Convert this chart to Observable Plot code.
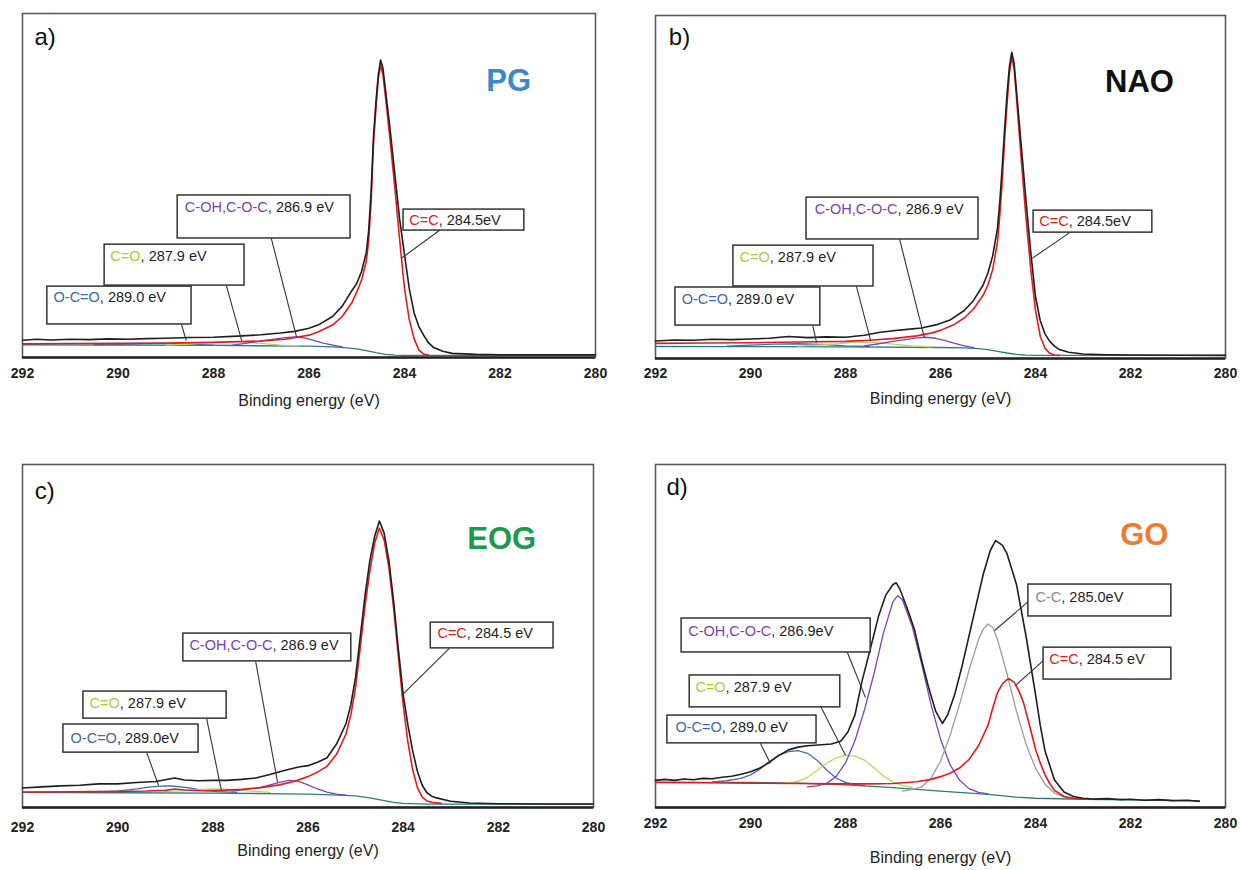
<!DOCTYPE html>
<html><head><meta charset="utf-8">
<script src="https://cdn.jsdelivr.net/npm/d3@7"></script>
<script src="https://cdn.jsdelivr.net/npm/@observablehq/plot@0.6"></script>
<style>
body{margin:0;background:#fff;}
#wrap{position:relative;width:1240px;height:870px;background:#fff;overflow:hidden;}
#wrap .p{position:absolute;}
</style></head><body><div id="wrap"></div>
<script>
// ---------- data ----------
const xTicks = [292, 290, 288, 286, 284, 282, 280];
const axisLabel = "Binding energy (eV)";

// Panel a) PG
const aTotal = [[292,5.0],[291.7,5.3],[291.4,5.1],[291,5.3],[290.6,5.2],[290.2,5.4],[289.8,5.3],[289.4,5.5],[289,5.6],[288.5,5.8],[288,5.9],[287.5,6.2],[287,6.6],[286.6,7.1],[286.3,7.6],[286,8.5],[285.8,9.5],[285.5,12],[285.3,15],[285.1,19.5],[285,21.5],[284.9,25],[284.8,30.5],[284.75,37],[284.7,48],[284.65,64],[284.6,74],[284.55,82],[284.5,86.5],[284.45,84],[284.4,78],[284.3,66],[284.2,53],[284.1,40],[284,30],[283.9,20],[283.8,13],[283.7,9],[283.6,6.5],[283.5,4.3],[283.4,3],[283.2,1.8],[283,1.2],[282.5,0.9],[282,0.8],[281,0.8],[280,0.8]];
const aCC = [[292,4.0],[291,4.05],[290,4.1],[289,4.2],[288,4.4],[287,4.8],[286.5,5.3],[286,6.5],[285.8,7.5],[285.5,9.5],[285.3,12],[285.1,16],[285,19],[284.9,22.5],[284.8,28],[284.75,34],[284.7,45],[284.65,62],[284.6,72],[284.55,81],[284.5,84.9],[284.45,82],[284.4,76],[284.3,63],[284.2,49],[284.1,34],[284,20],[283.9,11],[283.8,5.5],[283.7,2.2],[283.6,1.0],[283.5,0.7]];
const aCOH = [[287.6,3.6],[287.3,4.2],[287,4.8],[286.7,5.4],[286.5,5.8],[286.3,6.0],[286.1,5.7],[285.9,5.0],[285.7,4.2],[285.5,3.6],[285.3,3.1]];
const aCO = [[289,3.6],[288.5,3.9],[288,4.4],[287.7,4.7],[287.4,4.6],[287,4.1],[286.6,3.6],[286.2,3.4]];
const aOCO = [[290.5,3.7],[290,3.8],[289.5,4.0],[289,4.1],[288.5,3.9],[288,3.6],[287.5,3.5]];
const aBg = [[292,3.7],[290,3.6],[288,3.5],[286,3.3],[285.5,3.1],[285.2,2.8],[285,2.5],[284.8,2.0],[284.6,1.4],[284.4,0.9],[284.2,0.7],[284,0.6],[282,0.6],[280,0.6]];

// Panel b) NAO
const bTotal = [[292,5.1],[291.6,5.4],[291.2,5.3],[290.8,5.6],[290.4,5.5],[290,5.7],[289.6,5.9],[289.2,6.4],[288.8,6.1],[288.4,6.3],[288,6.2],[287.6,6.8],[287.3,7.6],[287,8.1],[286.7,8.5],[286.4,8.9],[286.1,9.8],[285.8,11.2],[285.5,14],[285.3,17],[285.1,21.5],[285,25],[284.9,30],[284.8,38],[284.75,46],[284.7,56],[284.65,67],[284.6,77],[284.55,85],[284.5,89.3],[284.45,86],[284.4,78],[284.3,62],[284.2,46],[284.1,31],[284,18],[283.9,11],[283.8,7.2],[283.7,5],[283.6,3.6],[283.5,2.6],[283.3,1.8],[283,1.3],[282.5,1.1],[282,1.0],[281,0.95],[280,0.9]];
const bCC = [[292,4.4],[291,4.5],[290,4.6],[289,4.8],[288,5.0],[287.5,5.3],[287,5.8],[286.5,6.6],[286.2,7.4],[286,8.2],[285.7,10],[285.5,11.8],[285.3,14.5],[285.1,18.5],[285,21.5],[284.9,26],[284.8,34],[284.75,42],[284.7,52],[284.65,64],[284.6,74],[284.55,83],[284.5,87.9],[284.45,84.5],[284.4,76],[284.3,58],[284.2,41],[284.1,26],[284,14],[283.9,6.5],[283.8,3],[283.7,1.5],[283.6,1.0],[283.5,0.9]];
const bCOH = [[287.6,3.7],[287.3,4.3],[287,5.0],[286.7,5.6],[286.5,6.0],[286.3,6.2],[286.1,5.9],[285.9,5.2],[285.7,4.4],[285.5,3.7],[285.3,3.2]];
const bCO = [[289,3.6],[288.5,4.0],[288,4.5],[287.7,4.8],[287.4,4.7],[287,4.2],[286.6,3.7],[286.2,3.4]];
const bOCO = [[290.5,3.6],[290,3.9],[289.5,4.2],[289,4.3],[288.5,4.1],[288,3.7],[287.5,3.5]];
const bBg = [[292,3.5],[290,3.45],[288,3.4],[286,3.2],[285.5,3.1],[285.2,2.9],[285,2.6],[284.8,2.1],[284.6,1.6],[284.4,1.2],[284.2,1.0],[284,0.9],[282,0.9],[280,0.9]];

// Panel c) EOG
const cTotal = [[292,5.7],[291.6,6.0],[291.2,6.3],[290.8,6.5],[290.4,6.9],[290,6.9],[289.6,7.3],[289.2,7.6],[289,8.1],[288.8,8.6],[288.6,8.0],[288.3,7.8],[288,7.9],[287.7,7.9],[287.4,8.2],[287.1,8.6],[286.8,9.6],[286.5,10.8],[286.2,11.8],[286,12.2],[285.8,13.2],[285.6,14.5],[285.4,18.5],[285.2,24.5],[285.1,30],[285,38],[284.9,50],[284.8,62],[284.7,72],[284.6,79],[284.5,83.5],[284.4,80],[284.3,72],[284.2,60],[284.1,46],[284,33],[283.9,24],[283.8,16.5],[283.7,10.5],[283.6,6.5],[283.5,4.3],[283.4,3.3],[283.3,2.8],[283,1.8],[282.6,1.3],[282,1.1],[281,1.0],[280,1.0]];
const cCC = [[292,4.5],[291,4.6],[290,4.7],[289.4,4.8],[289,5.0],[288.8,5.4],[288.6,5.1],[288.2,4.9],[287.8,5.0],[287.4,5.3],[287,5.8],[286.6,6.6],[286.3,7.6],[286,9.0],[285.8,10.3],[285.6,12],[285.4,15.5],[285.2,21.5],[285.1,27],[285,35],[284.9,47],[284.8,59],[284.7,69],[284.6,77],[284.5,81.5],[284.4,78],[284.3,70],[284.2,58],[284.1,44],[284,30],[283.9,19],[283.8,11],[283.7,5.8],[283.6,3.0],[283.5,1.9],[283.4,1.5],[283.2,1.2]];
const cCOH = [[287.6,4.8],[287.3,5.3],[287,5.8],[286.8,6.6],[286.6,7.3],[286.4,7.9],[286.2,7.6],[286,6.6],[285.8,5.4],[285.6,4.5],[285.4,3.9],[285.2,3.6]];
const cCO = [[289,4.6],[288.6,4.9],[288.2,5.3],[287.9,5.4],[287.6,5.2],[287.2,4.8],[286.8,4.4]];
const cOCO = [[290.4,4.5],[290,4.8],[289.6,5.4],[289.3,6.0],[289.0,6.3],[288.8,6.2],[288.5,5.7],[288.2,5.0],[287.9,4.6],[287.5,4.4]];
const cBg = [[292,4.4],[290,4.3],[288,4.2],[286.5,4.0],[286,3.9],[285.5,3.7],[285,3.4],[284.7,2.8],[284.4,2.0],[284.2,1.5],[284,1.2],[283.5,1.0],[280,1.0]];

// Panel d) GO
const dTotal = [[292,7.9],[291.8,8.2],[291.6,7.9],[291.4,8.3],[291.2,8.1],[291,8.5],[290.8,8.4],[290.6,8.8],[290.4,9.1],[290.2,9.7],[290,10.4],[289.8,11.5],[289.6,13.2],[289.4,15.2],[289.2,16.8],[289,17.6],[288.8,18.0],[288.5,18.3],[288.3,18.5],[288.1,19.3],[287.95,22],[287.8,27],[287.65,37],[287.5,45],[287.3,56],[287.15,62],[287,65],[286.93,65.5],[286.85,63.5],[286.7,58],[286.55,52],[286.4,43],[286.25,35],[286.1,28],[285.96,24.5],[285.85,27],[285.7,33],[285.55,41],[285.4,50],[285.25,59],[285.1,68],[284.95,75],[284.84,77.8],[284.7,76.5],[284.6,74],[284.4,65],[284.2,50],[284,33],[283.9,24],[283.8,16.5],[283.6,8],[283.4,4.5],[283.2,3.2],[283,2.7],[282.8,2.5],[282.5,2.6],[282.2,2.3],[282,2.4],[281.7,2.1],[281.4,2.3],[281.1,2.0],[280.8,2.1],[280.55,1.8]];
const dCC = [[292,7.3],[291,7.2],[290,7.1],[289,7.0],[288,6.9],[287.5,6.9],[287,7.0],[286.5,7.5],[286.2,8.2],[286,9.0],[285.8,10],[285.6,11.5],[285.4,14],[285.2,18],[285,24],[284.9,29],[284.8,33.5],[284.7,36],[284.6,37.3],[284.55,37.5],[284.45,36.5],[284.35,34],[284.25,30.5],[284.1,22.5],[284,17],[283.9,13],[283.8,9.5],[283.7,7],[283.6,5],[283.4,3.2],[283.2,2.7],[283,2.5]];
const dCCsingle = [[286.8,4.8],[286.6,5.2],[286.4,6.0],[286.2,8.5],[286,13.5],[285.8,21],[285.6,30],[285.4,40],[285.2,49],[285.1,52],[285,53.5],[284.9,52.5],[284.8,49],[284.6,39],[284.4,28],[284.2,18.5],[284,11.5],[283.8,6.8],[283.6,4.2],[283.4,3.1],[283.2,2.7]];
const dCOH = [[288.8,6.0],[288.6,6.3],[288.4,7.0],[288.2,9.0],[288,13],[287.8,19.5],[287.6,28.5],[287.4,39],[287.2,51],[287,60],[286.9,61.8],[286.8,60.5],[286.6,53],[286.4,42],[286.2,30],[286,20],[285.8,12.5],[285.6,8],[285.4,5.5],[285.2,4.4],[285,4.0]];
const dCO = [[289.3,7.0],[289.0,7.6],[288.8,8.8],[288.6,10.8],[288.4,12.9],[288.2,14.5],[288,15.2],[287.8,15],[287.6,13.8],[287.4,11.6],[287.2,9.2],[287,7.4],[286.8,6.4],[286.6,5.9]];
const dOCO = [[290.8,7.5],[290.5,7.8],[290.2,8.5],[290,9.5],[289.8,11.2],[289.6,13.4],[289.4,15.3],[289.2,16.3],[289,16.6],[288.8,15.8],[288.6,13.8],[288.4,11],[288.2,8.6],[288,7.3],[287.8,6.7],[287.6,6.4]];
const dBg = [[292,7.4],[291,7.35],[290,7.3],[289,7.1],[288,6.6],[287,5.8],[286,4.8],[285,3.8],[284.4,3.0],[284,2.7],[283,2.4],[282.5,2.3],[282,2.2],[281.5,2.1],[281,2.0],[280.55,1.9]];

// annotation labels (positions in data units: eV, intensity)
const aNotes = [
  {bond:"C-OH,C-O-C", energy:"286.9 eV", kind:"COH", bx1:288.75, bx2:285.13, by1:34.6, by2:47.1, tx:288.6, ty:43.6, lx1:286.79, ly1:34.6, lx2:286.26, ly2:5.9},
  {bond:"C=C", energy:"284.5eV", kind:"CC", bx1:284.02, bx2:281.49, by1:36.9, by2:43.0, tx:283.9, ty:39.9, lx1:283.27, ly1:36.9, lx2:284.07, ly2:28.8},
  {bond:"C=O", energy:"287.9 eV", kind:"CO", bx1:290.28, bx2:287.35, by1:20.9, by2:32.8, tx:290.16, ty:29.4, lx1:287.73, ly1:20.9, lx2:287.41, ly2:4.9},
  {bond:"O-C=O", energy:"289.0 eV", kind:"OCO", bx1:291.48, bx2:288.46, by1:9.6, by2:20.6, tx:291.35, ty:17.4, lx1:288.67, ly1:9.6, lx2:288.57, ly2:4.9}
];
const bNotes = [
  {bond:"C-OH,C-O-C", energy:"286.9 eV", kind:"COH", bx1:288.82, bx2:285.2, by1:34.7, by2:46.9, tx:288.65, ty:43.4, lx1:286.86, ly1:34.7, lx2:286.34, ly2:6.1},
  {bond:"C=C", energy:"284.5eV", kind:"CC", bx1:284.04, bx2:281.54, by1:36.7, by2:43.1, tx:283.92, ty:39.9, lx1:283.28, ly1:36.7, lx2:284.07, ly2:29.2},
  {bond:"C=O", energy:"287.9 eV", kind:"CO", bx1:290.36, bx2:287.41, by1:21.0, by2:32.9, tx:290.23, ty:29.4, lx1:287.77, ly1:21.0, lx2:287.47, ly2:5.2},
  {bond:"O-C=O", energy:"289.0 eV", kind:"OCO", bx1:291.58, bx2:288.53, by1:9.6, by2:20.7, tx:291.45, ty:17.2, lx1:288.69, ly1:9.6, lx2:288.61, ly2:4.7}
];
const cNotes = [
  {bond:"C=C", energy:"284.5 eV", kind:"CC", bx1:283.42, bx2:280.84, by1:46.4, by2:53.9, tx:283.28, ty:50.7, lx1:283.03, ly1:46.4, lx2:284.03, ly2:32.7},
  {bond:"C-OH,C-O-C", energy:"286.9 eV", kind:"COH", bx1:288.62, bx2:285.09, by1:42.6, by2:50.7, tx:288.49, ty:47.2, lx1:287.1, ly1:42.6, lx2:286.64, ly2:7.3},
  {bond:"C=O", energy:"287.9 eV", kind:"CO", bx1:290.72, bx2:287.71, by1:25.9, by2:33.8, tx:290.59, ty:30.3, lx1:288.13, ly1:25.9, lx2:287.82, ly2:5.0},
  {bond:"O-C=O", energy:"289.0eV", kind:"OCO", bx1:291.14, bx2:288.3, by1:16.0, by2:24.2, tx:290.99, ty:20.1, lx1:289.39, ly1:16.0, lx2:289.14, ly2:6.4}
];
const dNotes = [
  {bond:"C-C", energy:"285.0eV", kind:"CCs", bx1:284.15, bx2:281.14, by1:55.7, by2:65.0, tx:284.0, ty:61.2, lx1:284.13, ly1:60.3, lx2:284.86, ly2:51.6},
  {bond:"C=C", energy:"284.5 eV", kind:"CC", bx1:283.83, bx2:281.14, by1:37.3, by2:46.6, tx:283.71, ty:43.1, lx1:283.83, ly1:42.9, lx2:284.42, ly2:35.6},
  {bond:"C-OH,C-O-C", energy:"286.9eV", kind:"COH", bx1:291.45, bx2:287.47, by1:45.2, by2:55.1, tx:291.31, ty:51.3, lx1:287.96, ly1:45.2, lx2:287.58, ly2:32.1},
  {bond:"C=O", energy:"287.9 eV", kind:"CO", bx1:291.28, bx2:288.11, by1:29.2, by2:38.5, tx:291.16, ty:35.0, lx1:288.53, ly1:29.7, lx2:288.0, ly2:15.2},
  {bond:"O-C=O", energy:"289.0 eV", kind:"OCO", bx1:291.75, bx2:288.61, by1:18.7, by2:26.8, tx:291.58, ty:23.3, lx1:289.79, ly1:18.7, lx2:289.58, ly2:12.8}
];

const sampleNames = ["PG", "NAO", "EOG", "GO"];
const panelLetters = ["a)", "b)", "c)", "d)"];

// ---------- styles ----------
const curveColor = {Total:"#1e1e1e", CC:"#e8191e", CCs:"#9c9c9c", COH:"#7c44b8", CO:"#bcd65c", OCO:"#3e6fae", Bg:"#2b7c80"};
const labelColor = {CC:"#e41a1c", CCs:"#8a8a8a", COH:"#7a3fb5", CO:"#a9cc3c", OCO:"#3b6aa6"};
const sampleColor = ["#3d88cb", "#111111", "#1a9a4c", "#f07b2a"];
const FONT = "'Liberation Sans', Arial, Helvetica, sans-serif";

const panels = [
  {left:0, top:0, ml:22, mr:25, mt:13, mb:78, pad:11, lab:48,
   curves:[["Bg",aBg],["OCO",aOCO],["CO",aCO],["COH",aCOH],["CC",aCC],["Total",aTotal]], notes:aNotes,
   name:{x:281.82, y:80.5}, letter:{x:291.75, y:93}},
  {left:620, top:0, ml:35, mr:15, mt:15, mb:77, pad:10, lab:45,
   curves:[["Bg",bBg],["OCO",bOCO],["CO",bCO],["COH",bCOH],["CC",bCC],["Total",bTotal]], notes:bNotes,
   name:{x:281.81, y:80.5}, letter:{x:291.72, y:93.6}},
  {left:0, top:435, ml:22, mr:27, mt:29, mb:63, pad:15, lab:48,
   curves:[["Bg",cBg],["OCO",cOCO],["CO",cCO],["COH",cCOH],["CC",cCC],["Total",cTotal]], notes:cNotes,
   name:{x:281.93, y:78.4}, letter:{x:291.74, y:92.1}},
  {left:620, top:435, ml:35, mr:15, mt:29, mb:63, pad:11, lab:55,
   curves:[["Bg",dBg],["OCO",dOCO],["CO",dCO],["COH",dCOH],["CCs",dCCsingle],["CC",dCC],["Total",dTotal]], notes:dNotes,
   name:{x:281.71, y:79.3}, letter:{x:291.77, y:93.3}}
];

const wrap = document.getElementById("wrap");
const noteMap = new Map();

panels.forEach((p, i) => {
  p.notes.forEach(n => noteMap.set(n.bond + ", " + n.energy, n));
  const marks = [
    Plot.frame({stroke:"#5a5a5a", strokeWidth:1.6}),
    Plot.ruleY([0], {stroke:"#222", strokeWidth:2.6}),
    ...p.curves.map(([k, arr]) => Plot.line(arr, {x:d=>d[0], y:d=>d[1], stroke:curveColor[k], strokeWidth:(k==="Total"||k==="CC")?1.6:1.3})),
    Plot.link(p.notes, {x1:"lx1", y1:"ly1", x2:"lx2", y2:"ly2", stroke:"#333", strokeWidth:1.1}),
    Plot.rect(p.notes, {x1:"bx1", x2:"bx2", y1:"by1", y2:"by2", fill:"white", stroke:"#333", strokeWidth:1.5}),
    Plot.text(p.notes, {x:"tx", y:"ty", text:d=>d.bond + ", " + d.energy, textAnchor:"start", lineAnchor:"middle", fontSize:14.5, fill:"#1e1e1e", fontFamily:FONT}),
    Plot.text([sampleNames[i]], {x:()=>p.name.x, y:()=>p.name.y, text:d=>d, fontSize:31, fontWeight:"bold", fill:sampleColor[i], fontFamily:FONT}),
    Plot.text([panelLetters[i]], {x:()=>p.letter.x, y:()=>p.letter.y, text:d=>d, textAnchor:"start", fontSize:24, fill:"#111", fontFamily:FONT}),
    Plot.axisX(xTicks, {tickSize:0, tickPadding:p.pad, fontSize:14, fontWeight:"bold", fill:"#222", label:null, fontFamily:FONT}),
    Plot.text([axisLabel], {frameAnchor:"bottom", dy:p.lab, text:d=>d, fontSize:16, fill:"#222", fontFamily:FONT})
  ];
  const svg = Plot.plot({
    width:620, height:435,
    marginLeft:p.ml, marginRight:p.mr, marginTop:p.mt, marginBottom:p.mb,
    x:{domain:[292,280]},
    y:{domain:[0,100], axis:null},
    style:{background:"transparent", overflow:"visible", fontFamily:FONT},
    marks
  });
  svg.classList.add("p");
  svg.style.left = p.left + "px";
  svg.style.top = p.top + "px";
  svg.style.position = "absolute";
  wrap.appendChild(svg);
});

// colour the bond part of each annotation label
wrap.querySelectorAll("text").forEach(t => {
  const n = noteMap.get(t.textContent);
  if (!n) return;
  t.textContent = "";
  const ns = "http://www.w3.org/2000/svg";
  const s1 = document.createElementNS(ns, "tspan");
  s1.setAttribute("fill", labelColor[n.kind]);
  s1.textContent = n.bond;
  const s2 = document.createElementNS(ns, "tspan");
  s2.textContent = ", " + n.energy;
  t.appendChild(s1); t.appendChild(s2);
});
</script></body></html>
